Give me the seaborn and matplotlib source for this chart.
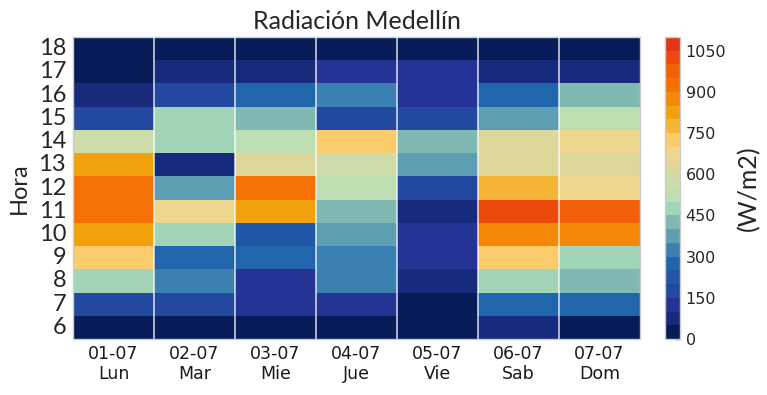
import numpy as np
import pandas as pd
import matplotlib
matplotlib.use("Agg")
import matplotlib.pyplot as plt
from matplotlib.colors import ListedColormap, BoundaryNorm
import seaborn as sns

# ---- data -------------------------------------------------------------
fechas = ["01-07", "02-07", "03-07", "04-07", "05-07", "06-07", "07-07"]
dias = ["Lun", "Mar", "Mie", "Jue", "Vie", "Sab", "Dom"]
horas = [6, 7, 8, 9, 10, 11, 12, 13, 14, 15, 16, 17, 18]

# radiation (W/m2) per hour 6..18 for each day
lun = [25, 175, 475, 725, 825, 925, 925, 825, 575, 175, 75, 25, 25]
mar = [25, 175, 325, 275, 475, 675, 375, 75, 475, 475, 175, 75, 25]
mie = [25, 125, 125, 275, 225, 825, 925, 625, 525, 425, 275, 75, 25]
jue = [25, 125, 325, 325, 375, 425, 525, 575, 725, 175, 325, 125, 25]
vie = [25, 25, 75, 125, 125, 75, 175, 375, 425, 175, 125, 125, 25]
sab = [75, 275, 475, 725, 875, 1025, 775, 625, 625, 375, 275, 75, 25]
dom = [25, 275, 425, 475, 875, 975, 675, 625, 675, 525, 425, 75, 25]

niveles = list(range(0, 1101, 50))
colores = ["#081d58", "#172a7c", "#253494", "#2348a0", "#2256a6", "#2166ac",
           "#3a80b0", "#5e9eb2", "#80b8b2", "#a2d4b8", "#bddfb1", "#cddca8",
           "#ddd89a", "#efd68e", "#fccb6e", "#f5b638", "#f1a10b", "#f48808",
           "#f57005", "#f26009", "#ec4a0c", "#e63416"]
ticks_cbar = [0, 150, 300, 450, 600, 750, 900, 1050]

# ---- table ------------------------------------------------------------
cols = [f"{f}\n{d}" for f, d in zip(fechas, dias)]
df = pd.DataFrame(np.array([lun, mar, mie, jue, vie, sab, dom]).T,
                  index=horas, columns=cols).iloc[::-1]

sns.set_theme(style="white")
plt.rcParams["font.family"] = ["DejaVu Sans"]

fig = plt.figure(figsize=(7.67, 3.95), dpi=100)
ax = fig.add_axes([73/767, 56/395, 567/767, 302/395])
cax = fig.add_axes([665/767, 56/395, 15/767, 302/395])

cmap = ListedColormap(colores)
norm = BoundaryNorm(niveles, cmap.N)

sns.heatmap(df, ax=ax, cbar_ax=cax, cmap=cmap, norm=norm,
            cbar_kws={"ticks": ticks_cbar})

# axes styling
for s in ax.spines.values():
    s.set_visible(True)
    s.set_color("#cccccc")
    s.set_linewidth(1)

ax.set_xticklabels(cols, rotation=0, fontsize=12.5, color="#1a1a1a",
                   fontfamily="DejaVu Sans")
ax.set_yticklabels([str(h) for h in df.index], rotation=0, fontsize=17,
                   color="#262626", fontfamily="Lato")

ax.set_xticks(np.arange(1, len(fechas)), minor=True)
ax.grid(which="minor", axis="x", color="white", linewidth=1.1, alpha=0.85)
ax.set_axisbelow(False)
ax.tick_params(which="minor", length=0)
ax.tick_params(axis="both", which="major", direction="in", length=4,
               width=1, color="#333333")
ax.tick_params(axis="x", pad=4)
ax.tick_params(axis="y", pad=5)

ax.set_xlabel("")
ax.set_ylabel("Hora", fontsize=17, family="Lato", color="#262626", labelpad=6)
ax.set_title("Radiación Medellín", fontsize=18, family="Lato",
             color="#262626", pad=6)

# colorbar styling
cb = ax.collections[0].colorbar
cb.outline.set_edgecolor("#cccccc")
cb.outline.set_linewidth(1)
cax.minorticks_off()
cax.tick_params(which="minor", length=0)
cax.tick_params(which="major", direction="in", length=4, width=1,
                color="#333333", pad=4)
cax.set_yticklabels([str(t) for t in ticks_cbar], fontsize=11.5,
                    color="#262626", fontfamily="DejaVu Sans")
cb.set_label("(W/m2)", fontsize=18, family="Lato", color="#262626",
             labelpad=8)

fig.savefig("out.png", dpi=100, facecolor="white")
